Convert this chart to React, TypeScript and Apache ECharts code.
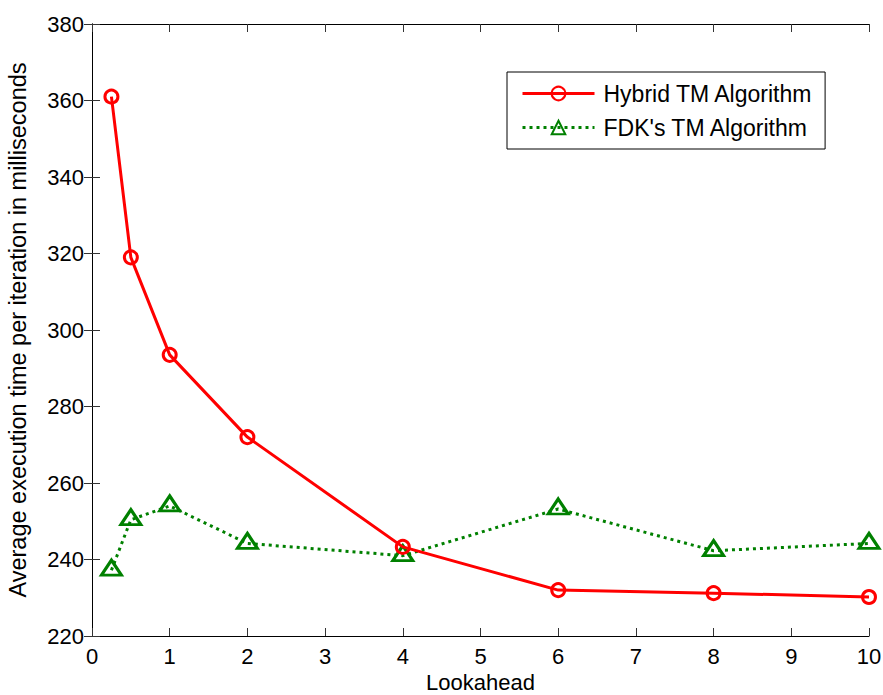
import React, { useEffect, useRef } from "react";
import * as echarts from "echarts";

const lookahead = [0.25, 0.5, 1, 2, 4, 6, 8, 10];
const hybridTM = [361, 319, 293.5, 272, 243.3, 232, 231.2, 230.2];
const fdkTM = [237.2, 250.4, 254, 244.2, 241, 253.2, 242.3, 244.2];
const seriesNames = ["Hybrid TM Algorithm", "FDK's TM Algorithm"];

const FONT = "Liberation Sans, Arial, sans-serif";

const pairs = (ys: number[]) => lookahead.map((x, i) => [x, ys[i]]);

export default function App() {
  const ref = useRef<HTMLDivElement>(null);

  useEffect(() => {
    if (!ref.current) return;
    const chart = echarts.init(ref.current, null, { renderer: "svg" });

    const frameAxis = {
      axisLine: { show: true, lineStyle: { color: "#000", width: 1 } },
      axisTick: { show: true, inside: true, length: 8, lineStyle: { color: "#333" } },
      splitLine: { show: false },
    };

    chart.setOption({
      animation: false,
      backgroundColor: "#fff",
      grid: { left: 92, right: 14, top: 24, bottom: 59, outerBoundsMode: "none", containLabel: false },
      legend: {
        data: seriesNames,
        orient: "vertical",
        left: 507,
        top: 72,
        padding: [10, 12, 10, 14],
        itemWidth: 72,
        itemHeight: 17,
        itemGap: 11,
        borderColor: "#000",
        borderWidth: 1,
        backgroundColor: "#fff",
        lineStyle: { width: 3 },
        textStyle: { fontFamily: FONT, fontSize: 23, color: "#000", padding: [0, 0, 0, 4] },
      },
      xAxis: [
        {
          type: "value",
          min: 0,
          max: 10,
          interval: 1,
          name: "Lookahead",
          nameLocation: "middle",
          nameGap: 35,
          nameTextStyle: { fontFamily: FONT, fontSize: 22, color: "#000", lineHeight: 22 },
          axisLabel: { fontFamily: FONT, fontSize: 22, color: "#000", margin: 9 },
          ...frameAxis,
        },
        {
          type: "value",
          position: "top",
          min: 0,
          max: 10,
          interval: 1,
          axisLabel: { show: false },
          ...frameAxis,
        },
      ],
      yAxis: [
        {
          type: "value",
          min: 220,
          max: 380,
          interval: 20,
          name: "Average execution time per iteration in milliseconds",
          nameLocation: "middle",
          nameGap: 62,
          nameTextStyle: { fontFamily: FONT, fontSize: 23.5, color: "#000" },
          axisLabel: { fontFamily: FONT, fontSize: 22, color: "#000", margin: 8 },
          ...frameAxis,
        },
        {
          type: "value",
          position: "right",
          min: 220,
          max: 380,
          interval: 20,
          axisLabel: { show: false },
          ...frameAxis,
        },
      ],
      series: [
        {
          name: seriesNames[0],
          type: "line",
          data: pairs(hybridTM),
          symbol: "circle",
          symbolSize: 13,
          lineStyle: { color: "#ff0000", width: 3 },
          itemStyle: { color: "rgba(255,255,255,0)", borderColor: "#ff0000", borderWidth: 3 },
          emphasis: { disabled: true },
          z: 3,
        },
        {
          name: seriesNames[1],
          type: "line",
          data: pairs(fdkTM),
          symbol: "triangle",
          symbolSize: [20, 15],
          symbolOffset: [0, "-17%"],
          lineStyle: { color: "#008000", width: 3, type: [3, 4] },
          itemStyle: { color: "rgba(255,255,255,0)", borderColor: "#008000", borderWidth: 3 },
          emphasis: { disabled: true },
          z: 2,
        },
      ],
    });

    return () => chart.dispose();
  }, []);

  return (
    <div
      ref={ref}
      style={{ position: "absolute", left: 0, top: 0, width: 883, height: 695 }}
    />
  );
}
